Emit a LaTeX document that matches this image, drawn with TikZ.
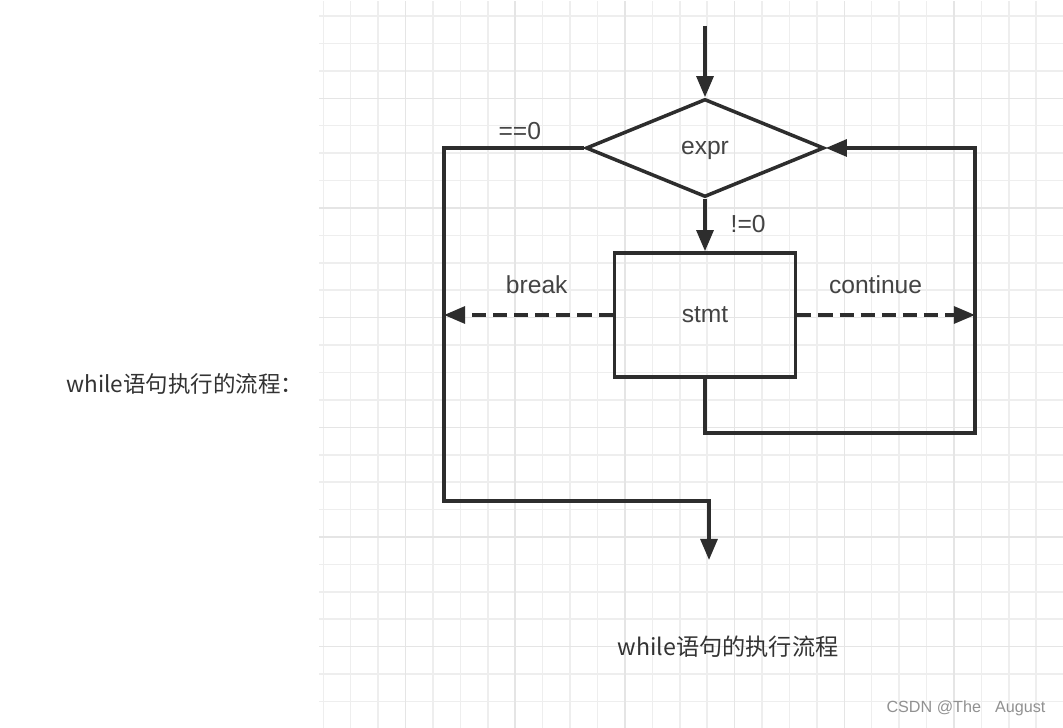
\documentclass[tikz,border=0pt]{standalone}
\usepackage{fontspec}
\setmainfont{Liberation Sans}
\newfontfamily\cjk{Noto Sans CJK SC}
\usetikzlibrary{shapes.geometric,arrows.meta}
\definecolor{lineblack}{RGB}{45,45,45}
\definecolor{textgray}{RGB}{68,68,68}
\definecolor{captiongray}{RGB}{51,51,51}
\definecolor{gridminor}{RGB}{238,238,238}
\definecolor{gridmajor}{RGB}{229,229,229}
\definecolor{markgray}{RGB}{145,145,145}

\begin{document}
\begin{tikzpicture}[x=0.025cm, y=-0.025cm,
  wire/.style={draw=lineblack, line width=2.5pt},
  flow/.style={wire, -{Triangle[length=15pt,width=12pt]}},
  dashflow/.style={flow, dash pattern=on 10pt off 5pt},
  txt/.style={text=textgray, font=\fontsize{17.5}{20}\selectfont, inner sep=0pt}]

\useasboundingbox[fill=white] (0,0) rectangle (1063,728);

% Grid paper
\begin{scope}
\clip (319,2) rectangle (1063,728);
\foreach \j in {0,...,27} {
  \draw[gridminor, line width=1.1pt] ({323.3+27.42*\j},0) -- ++(0,728);
  \draw[gridminor, line width=1.1pt] (300,{-11.4+27.42*(\j+1)}) -- ++(800,0);
}
\foreach \j in {3,7,...,27} {
  \draw[gridmajor, line width=1.1pt] ({323.3+27.42*\j},0) -- ++(0,728);
}
\foreach \j in {4,8,...,28} {
  \draw[gridmajor, line width=1.1pt] (300,{-11.4+27.42*\j}) -- ++(800,0);
}
\end{scope}

% Side text and caption
\node[text=captiongray, font=\cjk\fontsize{16}{19}\selectfont] (side) at (185,384) {while语句执行的流程：};
\node[text=captiongray, font=\cjk\fontsize{16.5}{20}\selectfont] (caption) at (728,647) {while语句的执行流程};
\node[text=markgray, font=\fontsize{11.5}{14}\selectfont] (mark) at (966,708) {CSDN @The\hspace{10pt}August};

% Nodes
\node[diamond, wire, txt, text depth=0pt, aspect=2.4, minimum width=5.95cm, minimum height=2.45cm] (expr) at (705,148) {expr};
\node[rectangle, wire, txt, minimum width=4.53cm, minimum height=3.1cm] (stmt) at (705,315) {stmt};

% Loose ends
\coordinate (start) at (705,26);
\coordinate (lcorner) at (444,148);
\coordinate (lbottom) at (444,501);
\coordinate (obend) at (709,501);
\coordinate (exit) at (709,560);
\coordinate (rtop) at (975,148);
\coordinate (rbottom) at (975,433);

% Connectors
\draw[flow] (start) -- (expr.north);
\draw[flow] (expr.south) -- node[txt, anchor=base west, xshift=17pt, yshift=-5.5pt] {!=0} (stmt.north);
\draw[flow] (expr.west) -- node[txt, anchor=base, pos=.46, yshift=5.7pt] {==0} (lcorner) -- (lbottom) -- (obend) -- (exit);
\draw[flow] (stmt.south) -- (stmt.south |- rbottom) -- (rbottom) -- (rtop) -- (expr.east);
\draw[dashflow] (stmt.west) -- node[txt, anchor=base, pos=.45, yshift=15pt] {break} (stmt.west -| lcorner);
\draw[dashflow] (stmt.east) -- node[txt, anchor=base, pos=.44, yshift=15pt] {continue} (stmt.east -| rtop);
\end{tikzpicture}
\end{document}
